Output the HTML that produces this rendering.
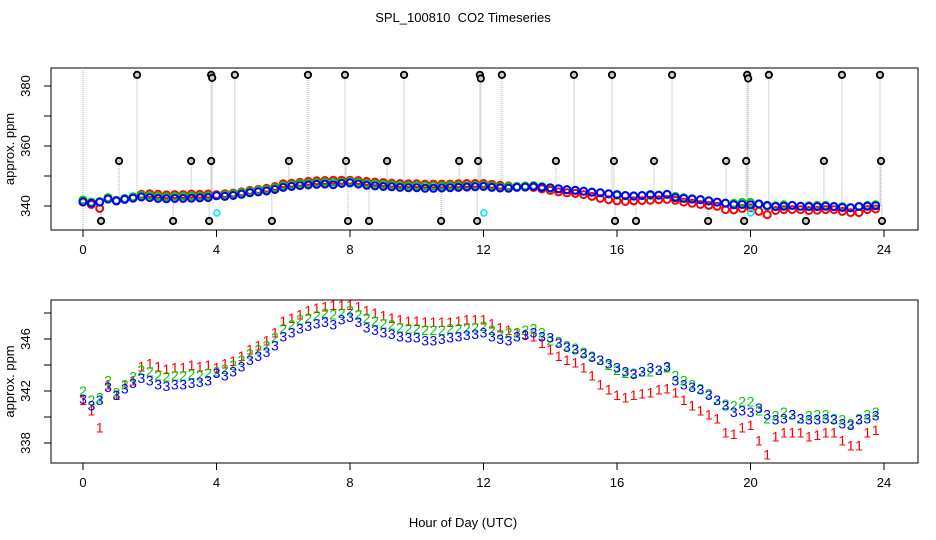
<!DOCTYPE html>
<html><head><meta charset="utf-8"><style>
html,body{margin:0;padding:0;background:#fff;}
svg{display:block;font-family:"Liberation Sans",sans-serif;}
</style></head><body>
<svg id="chart" width="936" height="540" viewBox="0 0 936 540">
<text x="463" y="22" text-anchor="middle" font-size="13" style="white-space:pre" xml:space="preserve">SPL_100810  CO2 Timeseries</text>
<g id="top"></g>
<g id="bot"></g>
<text x="463" y="527" text-anchor="middle" font-size="13">Hour of Day (UTC)</text>
</svg>
<script>
const xTicks=[0,4,8,12,16,20,24];
const topYTicks=[340,350,360,370,380];
const topYLabels=["340","","360","","380"];
const botYTicks=[338,340,342,344,346,348];
const botYLabels=["338","","342","","346",""];
const step=0.25;
const seriesBlue=[341.4,340.9,341.3,342.3,341.7,342.2,342.6,343.0,342.8,342.5,342.4,342.5,342.5,342.6,342.7,342.8,
343.4,343.2,343.5,343.9,344.4,344.7,345.0,345.5,346.2,346.5,346.8,347.0,347.2,347.3,347.1,347.5,
347.7,347.3,346.9,346.7,346.5,346.4,346.2,346.1,346.1,345.9,345.9,346.0,346.1,346.2,346.3,346.4,
346.5,346.2,346.0,345.9,346.2,346.3,346.5,346.2,346.1,345.7,345.4,345.2,344.9,344.6,344.4,344.1,
343.8,343.5,343.3,343.5,343.8,343.6,343.9,342.8,342.5,342.3,342.1,341.7,341.3,340.9,340.4,340.5,
340.4,340.7,340.2,339.8,339.9,340.2,339.9,339.8,339.8,339.9,339.8,339.5,339.4,339.8,339.9,340.1];
const seriesGreen=[342.0,341.3,341.5,342.8,341.9,342.5,343.1,343.6,343.5,343.2,343.1,343.2,343.2,343.3,343.2,343.4,
343.5,343.7,344.0,344.4,344.9,345.2,345.5,346.1,346.8,347.1,347.5,347.6,347.8,348.0,347.9,348.0,
348.2,347.9,347.6,347.4,347.2,347.1,346.9,346.8,346.8,346.7,346.7,346.7,346.8,346.8,346.8,346.9,
347.0,346.7,346.4,346.5,346.5,346.7,346.8,346.5,345.9,345.8,345.5,345.3,345.0,344.7,344.4,344.0,
343.6,343.4,343.4,343.5,343.5,343.6,343.8,343.2,342.8,342.5,342.2,341.8,341.3,341.0,340.9,341.2,
341.2,340.5,339.9,340.1,340.4,340.2,339.9,340.1,340.2,340.2,339.9,339.8,339.5,339.9,340.2,340.4];
const seriesRed=[341.3,340.5,339.2,342.5,341.7,342.5,342.8,343.9,344.1,343.9,343.7,343.8,343.8,344.0,343.9,344.0,
343.8,344.1,344.3,344.7,345.2,345.5,345.9,346.5,347.4,347.6,347.9,348.2,348.4,348.5,348.6,348.6,
348.6,348.5,348.2,348.0,347.8,347.6,347.5,347.4,347.4,347.3,347.3,347.3,347.3,347.4,347.5,347.5,
347.5,347.2,346.9,346.7,346.5,346.4,346.2,345.7,345.2,344.7,344.4,344.2,343.8,343.2,342.5,342.1,
341.7,341.5,341.7,341.8,341.9,342.1,342.2,341.9,341.3,340.9,340.5,340.2,339.9,338.8,338.7,339.2,
339.4,338.2,337.1,338.5,338.8,338.8,338.8,338.5,338.6,338.8,338.8,338.2,337.8,337.8,338.8,339.0];
const outlierHours=[1.62,3.84,3.87,4.55,6.74,7.85,9.62,11.89,11.92,12.55,14.71,15.85,17.65,19.90,19.93,20.55,22.74,23.88,
1.08,3.24,3.84,6.17,7.88,9.11,11.27,11.84,14.17,15.91,17.11,19.27,19.87,22.20,23.91,
0.54,2.70,3.78,5.66,7.94,8.57,10.73,11.81,15.94,16.57,18.73,19.81,21.66,23.94];
const outlierValues=[383.7,383.7,382.7,383.7,383.7,383.7,383.7,383.7,382.5,383.7,383.7,383.7,383.7,383.7,382.5,383.7,383.7,383.7,
355,355,355,355,355,355,355,355,355,355,355,355,355,355,355,
335,335,335,335,335,335,335,335,335,335,335,335,335,335];
const cyanHours=[4.01,12.01,20.01];
const cyanValues=[337.7,337.7,337.7];

const NS="http://www.w3.org/2000/svg";
const X0=83, XS=33.375;
function X(h){return X0+h*XS;}
function YT(p){return 206-(p-340)*3;}
function YB(p){return 391-(p-342)*13;}
function mk(parent,tag,attrs){const e=document.createElementNS(NS,tag);for(const k in attrs)e.setAttribute(k,attrs[k]);parent.appendChild(e);return e;}
function valAt(h){const i=Math.min(seriesBlue.length-1,Math.max(0,Math.round(h/step)));return seriesBlue[i];}

function axes(g,top,bottom,Y,ticks,labels){
  const box=mk(g,'rect',{x:51,y:top,width:867,height:bottom-top,fill:'none',stroke:'#000','stroke-width':1});
  
  
  xTicks.forEach(t=>{
    const l=mk(g,'line',{x1:X(t),x2:X(t),y1:bottom,y2:bottom+7,stroke:'#000'});
    
    
    const tx=mk(g,'text',{x:X(t),y:bottom+24,'text-anchor':'middle','font-size':13});
    tx.textContent=String(t);
    
    
  });
  ticks.forEach((t,i)=>{
    const y=Y(t);
    const l=mk(g,'line',{x1:44,x2:51,y1:y,y2:y,stroke:'#000'});
    
    
    if(labels[i]){
      const tx=mk(g,'text',{x:30,y:y,'text-anchor':'middle','font-size':13,transform:'rotate(-90 30 '+y+')'});
      tx.textContent=labels[i];
      
      
    }
  });
  const yl=mk(g,'text',{x:14,y:(top+bottom)/2,'text-anchor':'middle','font-size':13,transform:'rotate(-90 14 '+((top+bottom)/2)+')'});
  yl.textContent='approx. ppm';
  
  
}

const gt=document.getElementById('top');
const gb=document.getElementById('bot');
axes(gt,68,230,YT,topYTicks,topYLabels);
axes(gb,300,463,YB,botYTicks,botYLabels);

const fullLine=mk(gt,'line',{x1:X(0),x2:X(0),y1:68,y2:230,stroke:'#aaa','stroke-dasharray':'1,1'});


outlierHours.forEach((h,i)=>{
  const l=mk(gt,'line',{x1:X(h),x2:X(h),y1:YT(valAt(h)),y2:YT(outlierValues[i]),stroke:'#aaa','stroke-dasharray':'1,1'});
  
  
});
const topSeries=[[seriesRed,'#f00','red'],[seriesGreen,'#0c0','green'],[seriesBlue,'#00f','blue']];
topSeries.forEach(([arr,col,nm])=>{
  arr.forEach((v,i)=>{
    const c=mk(gt,'circle',{cx:X(i*step),cy:YT(v),r:3.5,fill:'none',stroke:col,'stroke-width':2});
    
    
  });
});
outlierHours.forEach((h,i)=>{
  const c=mk(gt,'circle',{cx:X(h),cy:YT(outlierValues[i]),r:3.2,fill:'#ccc',stroke:'#000','stroke-width':1.8});
  
  
});
cyanHours.forEach((h,i)=>{
  const c=mk(gt,'circle',{cx:X(h),cy:YT(cyanValues[i]),r:3,fill:'none',stroke:'#0ee','stroke-width':1.6});
  
  
});

const botSeries=[[seriesRed,'#f00','1','red'],[seriesGreen,'#0c0','2','green'],[seriesBlue,'#00f','3','blue']];
botSeries.forEach(([arr,col,ch,nm])=>{
  arr.forEach((v,i)=>{
    const t=mk(gb,'text',{x:X(i*step),y:YB(v)+5,'text-anchor':'middle','font-size':14,fill:col});
    t.textContent=ch;
    
    
  });
});
</script>
</body></html>
